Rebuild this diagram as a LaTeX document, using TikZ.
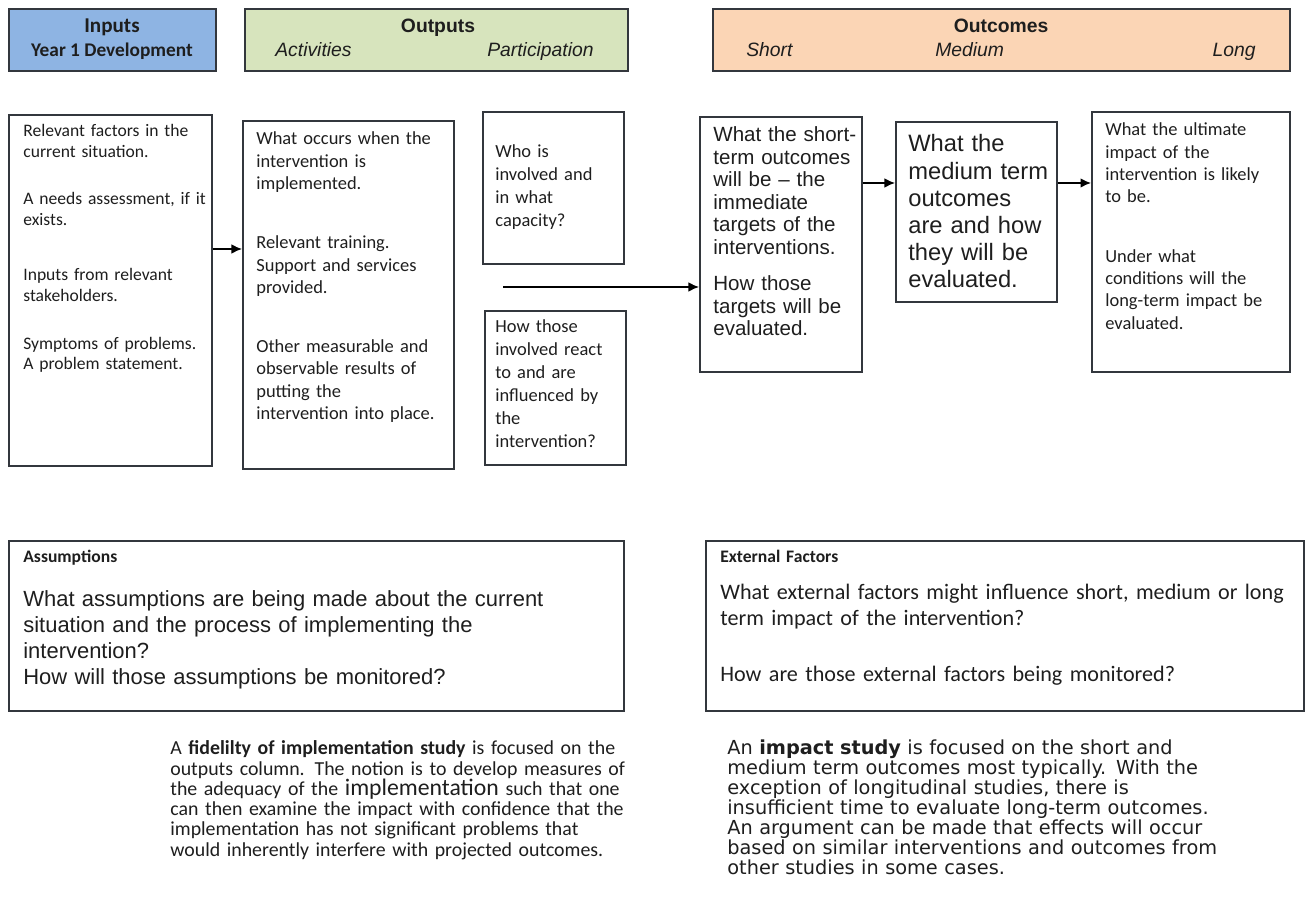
\documentclass[tikz,border=0pt]{standalone}
\usepackage{fontspec}
\setmainfont{Carlito}
\newfontfamily\arialf[Ligatures=TeX]{Liberation Sans}
\newfontfamily\verdf[Ligatures=TeX]{DejaVu Sans}
\usetikzlibrary{arrows.meta,fit}
\definecolor{lmblue}{HTML}{8EB4E3}
\definecolor{lmgreen}{HTML}{D7E4BD}
\definecolor{lmpeach}{HTML}{FBD5B5}
\definecolor{lmedge}{HTML}{33373D}
\definecolor{lmtext}{HTML}{1E1E1E}

\begin{document}
\begin{tikzpicture}[x=0.02cm,y=-0.02cm,>={Latex[length=6pt,width=5.5pt]},text=lmtext]
  \tikzset{
    hdr/.style={draw=lmedge,line width=1.2pt,inner sep=0pt},
    box/.style={draw=lmedge,line width=1.1pt,inner sep=0pt},
    txt/.style={anchor=base west,inner sep=0pt,align=left,text width=#1},
    sublab/.style={inner sep=0pt,font=\arialf\itshape\fontsize{11}{13}\selectfont},
    link/.style={->,line width=0.9pt,black},
  }
  \useasboundingbox (0,0) rectangle (1306,911);

  \node[hdr,fill=lmblue,fit={(9,9) (216,71)}] (hin) {};
  \node[hdr,fill=lmgreen,fit={(245,9) (628,71)}] (hout) {};
  \node[hdr,fill=lmpeach,fit={(713,9) (1290,71)}] (hoc) {};
  \node[anchor=base,inner sep=0pt,font=\bfseries\fontsize{12}{14}\selectfont] (hinA) at (112,33) {Inputs};
  \node[anchor=base,inner sep=0pt,font=\bfseries\fontsize{11}{13}\selectfont] (hinB) at (112,57) {Year 1 Development};
  \node[anchor=base,inner sep=0pt,font=\arialf\bfseries\fontsize{11}{13}\selectfont] (houtA) at (438,33) {Outputs};
  \node[anchor=base,inner sep=0pt,font=\arialf\bfseries\fontsize{11}{13}\selectfont] (hocA) at (1001,33) {Outcomes};
  \foreach \nm/\pos/\anc/\lab in {act/275/west/Activities, par/594/east/Participation,
      sho/746/west/Short, med/935/west/Medium, lon/1256/east/Long}
    \node[sublab,anchor=base \anc] (h\nm) at (\pos,57) {\lab};

  \node[box,fit={(9,115) (212,466)}] (inp) {};
  \node[box,fit={(243,121) (454,469)}] (act) {};
  \node[box,fit={(483,112) (624,264)}] (who) {};
  \node[box,fit={(485,311) (626,465)}] (how) {};
  \node[box,fit={(700,117) (862,372)}] (st) {};
  \node[box,fit={(896,122) (1057,302)}] (md) {};
  \node[box,fit={(1092,112) (1290,372)}] (lg) {};

  \node[txt=3.8cm,font=\fontsize{10}{11.9}\selectfont] (inptxt) at (23,137)
    {Relevant factors in the\\current situation.\\[14.7pt]A needs assessment, if it\\exists.\\[19.3pt]
     Inputs from relevant\\stakeholders.\\[15.3pt]Symptoms of problems.\\A problem statement.};
  \node[txt=4cm,font=\fontsize{10.5}{12.7}\selectfont] (acttxt) at (256,145)
    {What occurs when the\\intervention is\\implemented.\\[21pt]Relevant training.\\Support and services\\provided.\\[21pt]
     Other measurable and\\observable results of\\putting the\\intervention into place.};
  \node[txt=2.6cm,font=\fontsize{10.5}{13}\selectfont] (whotxt) at (495,158)
    {Who is\\involved and\\in what\\capacity?};
  \node[txt=2.6cm,font=\fontsize{10.5}{13}\selectfont] (howtxt) at (495,333)
    {How those\\involved react\\to and are\\influenced by\\the\\intervention?};
  \node[txt=3cm,font=\arialf\fontsize{11.7}{12.8}\selectfont] (sttxt) at (713,142)
    {What the short-\\term outcomes\\will be – the\\immediate\\targets of the\\interventions.\\[8pt]
     How those\\targets will be\\evaluated.};
  \node[txt=3cm,font=\arialf\fontsize{13.5}{15.4}\selectfont] (mdtxt) at (908,152)
    {What the\\medium term\\outcomes\\are and how\\they will be\\evaluated.};
  \node[txt=3.8cm,font=\fontsize{10.5}{12.7}\selectfont] (lgtxt) at (1105,136)
    {What the ultimate\\impact of the\\intervention is likely\\to be.\\[21pt]
     Under what\\conditions will the\\long-term impact be\\evaluated.};

  \coordinate (part) at (503,287);
  \draw[link] (inp.east |- 0,249) -- (act.west |- 0,249);
  \draw[link] (part) -- (part -| st.west);
  \draw[link] (st.east |- 0,183) -- (md.west |- 0,183);
  \draw[link] (md.east |- 0,183) -- (lg.west |- 0,183);

  \node[box,fit={(9,541) (624,711)}] (asm) {};
  \node[box,fit={(706,541) (1304,711)}] (ext) {};
  \node[txt=6cm,font=\bfseries\fontsize{10}{12}\selectfont] (asmhd) at (23,563) {Assumptions};
  \node[txt=11.5cm,font=\arialf\fontsize{12.5}{14.7}\selectfont] (asmtxt) at (23,607)
    {What assumptions are being made about the current\\situation and the process of implementing the\\
     intervention?\\How will those assumptions be monitored?};
  \node[txt=6cm,font=\bfseries\fontsize{10}{12}\selectfont] (exthd) at (720,563) {External Factors};
  \node[txt=11.8cm,font=\fontsize{12.6}{14.7}\selectfont] (exttxt) at (720,600)
    {What external factors might influence short, medium or long\\term impact of the intervention?\\[17pt]
     How are those external factors being monitored?};

  \node[txt=9.8cm,font=\fontsize{11.3}{11.5}\selectfont] (fidtxt) at (170,755)
    {A \textbf{fidelilty of implementation study} is focused on the\\
     outputs column. The notion is to develop measures of\\
     the adequacy of the {\fontsize{13.5}{11.5}\selectfont implementation} such that one\\
     can then examine the impact with confidence that the\\
     implementation has not significant problems that\\
     would inherently interfere with projected outcomes.};
  \node[txt=11.5cm,font=\verdf\fontsize{11}{11.35}\selectfont] (imptxt) at (727,755)
    {An \textbf{impact study} is focused on the short and\\
     medium term outcomes most typically.  With the\\
     exception of longitudinal studies, there is\\
     insufficient time to evaluate long-term outcomes.\\
     An argument can be made that effects will occur\\
     based on similar interventions and outcomes from\\
     other studies in some cases.};
\end{tikzpicture}
\end{document}
